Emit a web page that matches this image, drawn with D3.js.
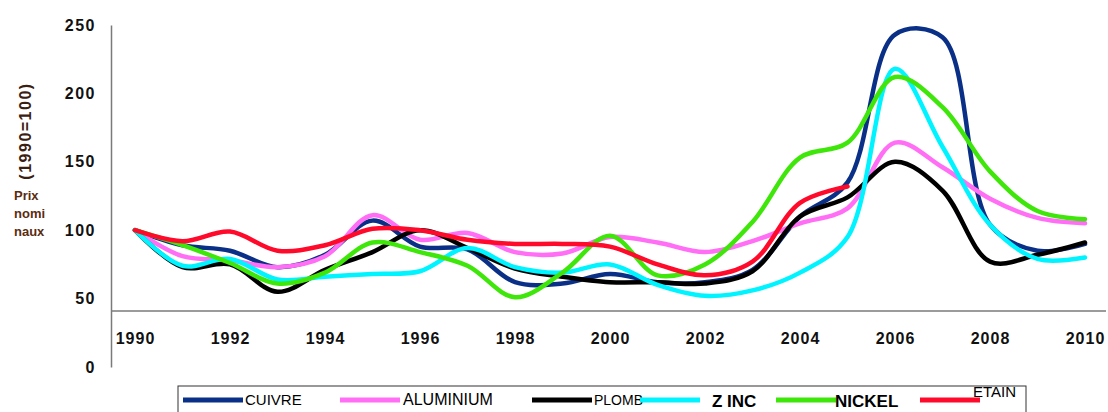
<!DOCTYPE html>
<html><head><meta charset="utf-8">
<script src="https://cdn.jsdelivr.net/npm/d3@7"></script>
<style>body{margin:0;background:#fff}svg{display:block}</style>
</head><body><svg id="c" width="1108" height="412"></svg>
<script>
// ---- data ----
const years = [1990,1991,1992,1993,1994,1995,1996,1997,1998,1999,2000,2001,2002,2003,2004,2005,2006,2007,2008,2009,2010];
const cuivre    = [100,89,85,73,82,107,88,86,62,61,68,62,62,71,110,135,243,241,104,85,90];
const aluminium = [100,81,78,73,81,111,93,98,84,83,95,91,84,92,105,116,164,146,123,109,105];
const plomb     = [100,73,75,55,71,84,100,87,72,66,62,62,61,70,110,124,150,129,77,82,91];
const zinc      = [100,74,79,64,66,68,70,87,73,69,75,60,52,56,69,95,218,161,104,79,80];
const nickel    = [100,89,76,61,69,91,84,74,51,69,96,67,75,106,153,164,212,190,143,114,108];
const etain     = [100,92,99,85,89,101,100,93,90,90,88,75,67,77,120,132,null,null,null,null,null];
const seriesNames = ["CUIVRE","ALUMINIUM","PLOMB","Z INC","NICKEL","ETAIN"];
const yTickValues = [0,50,100,150,200,250];
const xTickYears = [1990,1992,1994,1996,1998,2000,2002,2004,2006,2008,2010];
const axisCross = 41;

// ---- styles / layout ----
const colors = ["#0a2f86","#ff6ef5","#000000","#00f4ff","#3ee60a","#ff0a2a"];
const seriesData = [cuivre, aluminium, plomb, zinc, nickel, etain];
const FONT = "Liberation Sans, Arial, sans-serif";

const svg = d3.select("#c");
const x = d3.scaleLinear().domain([1990,2010]).range([135,1085]);
const y = d3.scaleLinear().domain([0,250]).range([367,25]);

// y axis
const yAx = svg.append("g").attr("transform","translate(111,0)")
  .call(d3.axisLeft(y).tickValues(yTickValues).tickSize(0).tickSizeOuter(0).tickPadding(15));
yAx.select(".domain").attr("stroke","#7a7a7a").attr("stroke-width",1.5);
yAx.selectAll("text").attr("font-family",FONT)
  .attr("font-weight","bold").attr("font-size",16).attr("fill","#111")
  .style("letter-spacing","1.5px");

// x axis line across at axisCross
svg.append("line").attr("x1",111).attr("x2",1106)
  .attr("y1",y(axisCross)).attr("y2",y(axisCross))
  .attr("stroke","#7a7a7a").attr("stroke-width",1.5);
const xAx = svg.append("g").attr("transform",`translate(0,${y(axisCross)})`)
  .call(d3.axisBottom(x).tickValues(xTickYears).tickFormat(d3.format("d")).tickSize(0).tickPadding(22));
xAx.select(".domain").remove();
xAx.selectAll("text").attr("font-family",FONT)
  .attr("font-weight","bold").attr("font-size",16).attr("fill","#111")
  .style("letter-spacing","1px");

// axis titles
svg.append("text").attr("transform","translate(31,131) rotate(-90)")
  .attr("text-anchor","middle").attr("font-family",FONT)
  .attr("font-weight","bold").attr("font-size",16).attr("fill","#3a2010")
  .style("letter-spacing","1.5px").text("(1990=100)");
const sub = svg.append("text").attr("font-family",FONT)
  .attr("font-size",13).attr("font-weight","bold").attr("fill","#5a2c10");
["Prix","nomi","naux"].forEach((t,i)=>sub.append("tspan").attr("x",14).attr("y",200+i*18).text(t));

// lines
const line = d3.line().defined(d=>d[1]!=null)
  .x(d=>x(d[0])).y(d=>y(d[1])).curve(d3.curveCatmullRom.alpha(0.5));
seriesData.forEach((s,i)=>{
  svg.append("path").datum(years.map((yr,j)=>[yr,s[j]]))
    .attr("d",line).attr("fill","none").attr("stroke",colors[i])
    .attr("stroke-width",4.5).attr("stroke-linejoin","round").attr("stroke-linecap","round");
});

// legend
svg.append("rect").attr("x",178).attr("y",386).attr("width",848).attr("height",40)
  .attr("fill","none").attr("stroke","#333").attr("stroke-width",1);
const legLayout = [
  {lx:183, tx:245, ty:405, fs:15, fw:"normal"},
  {lx:340, tx:403, ty:405, fs:16, fw:"normal"},
  {lx:532, tx:594, ty:405, fs:14, fw:"normal"},
  {lx:640, tx:712, ty:407, fs:17, fw:"bold"},
  {lx:776, tx:835, ty:407, fs:17, fw:"bold"},
  {lx:920, tx:973, ty:397, fs:15, fw:"normal"}
];
seriesNames.forEach((n,i)=>{
  const L = legLayout[i];
  svg.append("line").attr("x1",L.lx).attr("x2",L.lx+60).attr("y1",400).attr("y2",400)
    .attr("stroke",colors[i]).attr("stroke-width",5);
  svg.append("text").attr("x",L.tx).attr("y",L.ty).attr("font-family",FONT)
    .attr("font-size",L.fs).attr("font-weight",L.fw).attr("fill","#000").text(n);
});
</script></body></html>
